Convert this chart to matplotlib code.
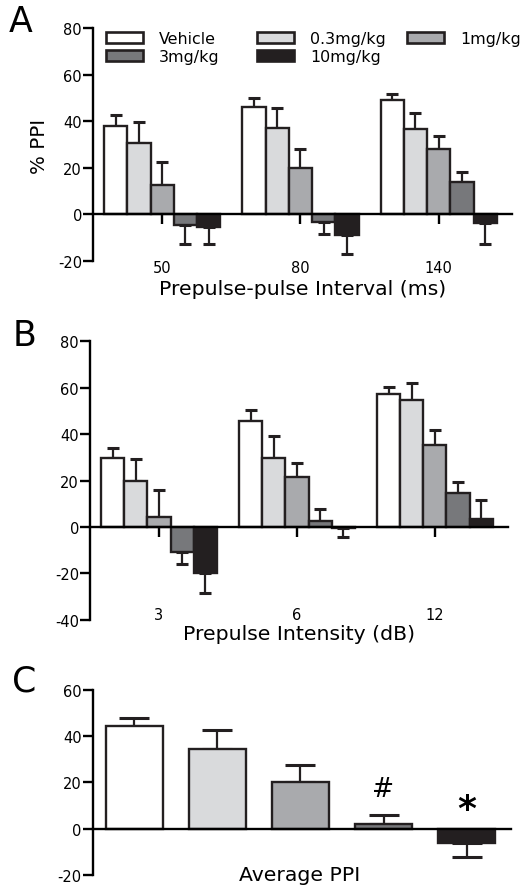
import numpy as np
import matplotlib
matplotlib.use("Agg")
import matplotlib.pyplot as plt
from matplotlib.patches import Patch
import matplotlib.transforms as mtransforms

plt.rcParams['font.family'] = ['DejaVu Sans']

# ---------------- data ----------------
doses = ["Vehicle", "0.3mg/kg", "1mg/kg", "3mg/kg", "10mg/kg"]
colors = ["#ffffff", "#d9dadc", "#a9aaad", "#77787b", "#231f20"]

intervals = ["50", "80", "140"]
a_mean = {
    "Vehicle":  [38.0, 46.0, 49.0],
    "0.3mg/kg": [30.5, 37.0, 36.5],
    "1mg/kg":   [12.6, 20.0, 28.0],
    "3mg/kg":   [-4.7, -3.3, 14.0],
    "10mg/kg":  [-5.6, -9.0, -3.6],
}
a_err = {
    "Vehicle":  [4.6, 4.0, 2.6],
    "0.3mg/kg": [9.0, 8.6, 7.0],
    "1mg/kg":   [10.0, 8.0, 5.7],
    "3mg/kg":   [8.2, 4.9, 4.4],
    "10mg/kg":  [7.3, 8.2, 9.3],
}

intensities = ["3", "6", "12"]
b_mean = {
    "Vehicle":  [29.5, 45.7, 57.5],
    "0.3mg/kg": [19.9, 29.8, 54.6],
    "1mg/kg":   [4.3, 21.6, 35.4],
    "3mg/kg":   [-11.0, 2.7, 14.8],
    "10mg/kg":  [-19.7, -0.3, 3.3],
}
b_err = {
    "Vehicle":  [4.6, 4.6, 3.0],
    "0.3mg/kg": [9.2, 9.3, 7.3],
    "1mg/kg":   [11.4, 5.9, 6.5],
    "3mg/kg":   [5.2, 5.2, 4.7],
    "10mg/kg":  [9.0, 4.2, 8.3],
}

c_mean = [44.3, 34.6, 20.3, 1.9, -6.0]
c_err = [3.4, 7.8, 7.3, 3.8, 6.4]
c_marks = ["", "", "", "#", "*"]

W, H = 520, 887
fig = plt.figure(figsize=(W / 100, H / 100), dpi=100)


def px_axes(l, r, t, b):
    return fig.add_axes([l / W, 1 - b / H, (r - l) / W, (b - t) / H])


LW = 1.7


def style_axes(ax, ylim, yticks, xlim, xticks=True):
    ax.set_ylim(*ylim)
    ax.set_xlim(*xlim)
    ax.set_yticks(yticks)
    ax.set_yticklabels([str(v) for v in yticks])
    for s in ["top", "right"]:
        ax.spines[s].set_visible(False)
    ax.spines["left"].set_linewidth(LW)
    ax.spines["bottom"].set_linewidth(LW)
    ax.spines["bottom"].set_position(("data", 0))
    ax.tick_params(axis="y", length=7, width=LW, pad=1, labelsize=10.5, direction="out")
    if xticks:
        ax.tick_params(axis="x", length=7, width=LW, labelbottom=False, direction="out")
    else:
        ax.tick_params(axis="x", length=0, labelbottom=False)


def grouped(ax, groups, means, errs):
    x = np.arange(len(groups))
    bw = 0.168
    for i, d in enumerate(doses):
        m = np.array(means[d])
        e = np.array(errs[d])
        xs = x + (i - 2) * bw
        lo = np.where(m < 0, e, 0)
        hi = np.where(m >= 0, e, 0)
        ax.errorbar(xs, m, yerr=[lo, hi], fmt="none", ecolor="#231f20",
                    elinewidth=1.6, capsize=4.6, capthick=2.2, zorder=1)
        ax.bar(xs, m, width=bw, color=colors[i], edgecolor="#231f20",
               linewidth=LW, zorder=2)
    ax.set_xticks(x)


# ---------------- Panel A ----------------
axA = px_axes(93, 512, 29, 262)
grouped(axA, intervals, a_mean, a_err)
style_axes(axA, (-20, 80), [-20, 0, 20, 40, 60, 80], (-0.5, 2.53))
trA = mtransforms.blended_transform_factory(axA.transData, axA.transAxes)
for i, lab in enumerate(intervals):
    axA.text(i, -0.027, lab, transform=trA, ha="center", va="center", fontsize=10.5)
axA.text(0.5, -0.118, "Prepulse-pulse Interval (ms)", transform=axA.transAxes,
         ha="center", va="center", fontsize=14.7)
axA.text(-0.127, 0.494, "% PPI", transform=axA.transAxes, rotation=90,
         ha="center", va="center", fontsize=14.3)

handles = {d: Patch(facecolor=colors[i], edgecolor="#231f20", linewidth=1.9)
           for i, d in enumerate(doses)}
leg_cols = [["Vehicle", "3mg/kg"], ["0.3mg/kg", "10mg/kg"], ["1mg/kg"]]
leg_x = [106, 257, 407]
for k, col in enumerate(leg_cols):
    lg = axA.legend([handles[d] for d in col], col, loc="upper left",
                    bbox_to_anchor=(leg_x[k] / W, 1 - 32 / H),
                    bbox_transform=fig.transFigure, frameon=False,
                    fontsize=11.4, handlelength=2.35, handleheight=0.62,
                    handletextpad=1.0, labelspacing=0.2, borderpad=0,
                    borderaxespad=0)
    if k < len(leg_cols) - 1:
        axA.add_artist(lg)

# ---------------- Panel B ----------------
axB = px_axes(90, 508, 342.3, 620.7)
grouped(axB, intensities, b_mean, b_err)
style_axes(axB, (-40, 80), [-40, -20, 0, 20, 40, 60, 80], (-0.5, 2.53))
trB = mtransforms.blended_transform_factory(axB.transData, axB.transAxes)
for i, lab in enumerate(intensities):
    axB.text(i, 0.02, lab, transform=trB, ha="center", va="center", fontsize=10.5)
axB.text(0.501, -0.048, "Prepulse Intensity (dB)", transform=axB.transAxes,
         ha="center", va="center", fontsize=14.7)

# ---------------- Panel C ----------------
axC = px_axes(92.7, 510.7, 690.7, 876)
xc = np.arange(len(doses))
c_m = np.array(c_mean)
c_e = np.array(c_err)
lo = np.where(c_m < 0, c_e, 0)
hi = np.where(c_m >= 0, c_e, 0)
axC.errorbar(xc, c_m, yerr=[lo, hi], fmt="none", ecolor="#231f20",
             elinewidth=1.6, capsize=10.8, capthick=2.2, zorder=1)
axC.bar(xc, c_m, width=0.68, color=colors, edgecolor="#231f20",
        linewidth=LW, zorder=2)
style_axes(axC, (-20, 60), [-20, 0, 20, 40, 60], (-0.5, 4.53), xticks=False)
axC.set_xticks([])
tops = np.where(c_m >= 0, c_m + c_e, 0)
for i, mk in enumerate(c_marks):
    if mk == "#":
        axC.annotate(mk, (xc[i], tops[i]), xytext=(0, 19), textcoords="offset points",
                     ha="center", va="center", fontsize=19)
    elif mk == "*":
        axC.annotate(mk, (xc[i], tops[i]), xytext=(0, 14), textcoords="offset points",
                     ha="center", va="center", fontsize=26, fontweight="bold")
axC.text(0.495, 0.005, "Average PPI", transform=axC.transAxes,
         ha="center", va="center", fontsize=14.7)

# ---------------- panel letters ----------------
for lab, (cx, cy) in zip(["A", "B", "C"], [(21, 21.5), (25, 335.5), (24.5, 681)]):
    fig.text(cx / W, 1 - cy / H, lab, ha="center", va="center", fontsize=25)

fig.savefig("out.png", dpi=100)
